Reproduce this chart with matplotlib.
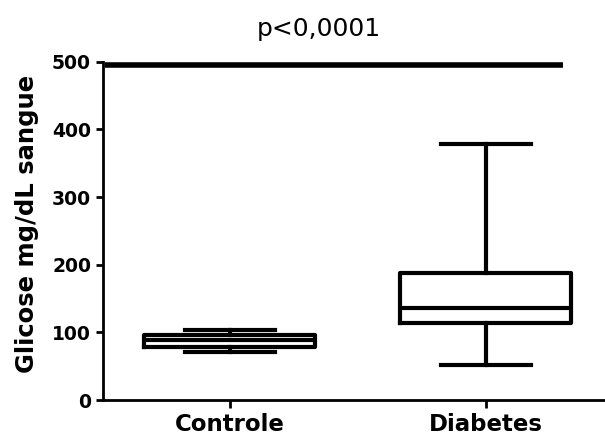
import matplotlib
matplotlib.use("Agg")
import matplotlib.pyplot as plt

plt.rcParams['font.family'] = ['DejaVu Sans']

categories = ["Controle", "Diabetes"]
whislo = [71, 52]
q1 = [79, 114]
med = [89, 135.5]
q3 = [96, 187]
whishi = [103.5, 379]
sig_y = 495
title = "p<0,0001"
ylabel = "Glicose mg/dL sangue"
yticks = [0, 100, 200, 300, 400, 500]

fig = plt.figure(figsize=(6.05, 4.34), dpi=100)
ax = fig.add_axes([0.170, 0.0783, 0.830, 0.7795])

stats = []
for i, c in enumerate(categories):
    stats.append(dict(label=c, whislo=whislo[i], q1=q1[i], med=med[i], q3=q3[i], whishi=whishi[i], fliers=[]))

lw = 3.0
ax.bxp(stats, positions=[1, 2], widths=0.668, capwidths=0.35, showfliers=False,
       boxprops=dict(color='black', linewidth=lw),
       medianprops=dict(color='black', linewidth=lw),
       whiskerprops=dict(color='black', linewidth=lw),
       capprops=dict(color='black', linewidth=lw))

ax.plot([0.512, 2.30], [sig_y, sig_y], color='black', linewidth=4.0, solid_capstyle='butt', clip_on=False)

ax.set_xlim(0.504, 2.465)
ax.set_ylim(0, 500)
ax.set_yticks(yticks)
ax.set_xticks([1, 2])
ax.set_xticklabels(categories, fontsize=16.5, fontweight='bold')
for lab in ax.get_yticklabels():
    lab.set_fontsize(13.5)
    lab.set_fontweight('bold')
ax.set_ylabel(ylabel, fontsize=17.5, fontweight='bold')
ax.yaxis.set_label_coords(-0.127, 0.52)
ax.spines['top'].set_visible(False)
ax.spines['right'].set_visible(False)
ax.spines['left'].set_linewidth(2)
ax.spines['bottom'].set_linewidth(2)
ax.tick_params(axis='y', width=2, length=5, pad=3.5)
ax.tick_params(axis='x', width=2, length=6, pad=3.5)

fig.text(0.527, 0.934, title, ha='center', va='center', fontsize=18)

fig.savefig("out.png", dpi=100)
